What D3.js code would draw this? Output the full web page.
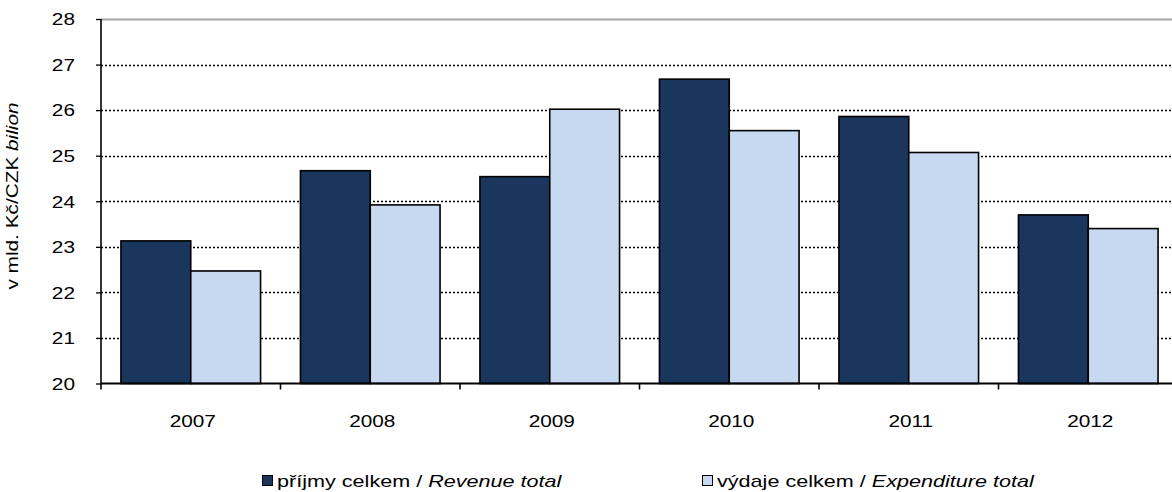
<!DOCTYPE html>
<html>
<head>
<meta charset="utf-8">
<script src="https://cdn.jsdelivr.net/npm/d3@7"></script>
<style>
body { margin: 0; background: #fff; }
text { font-family: "Liberation Sans", Arial, sans-serif; fill: #000; }
</style>
</head>
<body>
<script>
// data
var years = ["2007", "2008", "2009", "2010", "2011", "2012"];
var revenue = [23.13, 24.67, 24.54, 26.68, 25.86, 23.70];
var expenditure = [22.47, 23.92, 26.02, 25.55, 25.07, 23.40];
var yTicks = [20, 21, 22, 23, 24, 25, 26, 27, 28];
var seriesNames = ["příjmy celkem", "výdaje celkem"];
var seriesEn = ["Revenue total", "Expenditure total"];
var colors = ["#1b365c", "#c6d9f0"];

var w = 1172, h = 492;
var plotLeft = 101, plotRight = 1178, plotTop = 19, plotBottom = 383.5;
var stretch = 1.3; // text in the source is wider than normal

var svg = d3.select("body").append("svg")
	.attr("width", w)
	.attr("height", h);

var x = d3.scaleBand()
	.domain(years)
	.range([plotLeft, plotRight]);

var x1 = d3.scaleBand()
	.domain([0, 1])
	.range([0, x.bandwidth()])
	.paddingOuter(0.2857)
	.paddingInner(0);

var y = d3.scaleLinear()
	.domain([20, 28])
	.range([plotBottom, plotTop]);

// gridlines
svg.append("g").selectAll("line")
	.data(yTicks.filter(function(d){ return d > 20; }))
	.enter()
	.append("line")
	.attr("x1", plotLeft)
	.attr("x2", w)
	.attr("y1", function(d){ return Math.round(y(d)) + 0.5; })
	.attr("y2", function(d){ return Math.round(y(d)) + 0.5; })
	.style("stroke", function(d){ return d == 28 ? "#a6a6a6" : "#000"; })
	.style("stroke-width", function(d){ return d == 28 ? 2 : 1.3; })
	.style("stroke-dasharray", function(d){ return d == 28 ? null : "2,2"; });

// bars
var rows = years.map(function(yr, i){ return {year: yr, vals: [revenue[i], expenditure[i]]}; });
var groups = svg.append("g").selectAll("g")
	.data(rows)
	.enter()
	.append("g")
	.attr("transform", function(d){ return "translate(" + x(d.year) + ",0)"; });

groups.selectAll("rect")
	.data(function(d){ return d.vals; })
	.enter()
	.append("rect")
	.attr("x", function(d, i){ return x1(i); })
	.attr("width", x1.bandwidth())
	.attr("y", function(d){ return y(d); })
	.attr("height", function(d){ return y(20) - y(d); })
	.style("fill", function(d, i){ return colors[i]; })
	.style("stroke", "#000")
	.style("stroke-width", 1.6);

// y axis
var yAxis = d3.axisLeft(y)
	.tickValues(yTicks)
	.tickSize(5)
	.tickFormat(d3.format("d"));

var gy = svg.append("g")
	.attr("transform", "translate(" + plotLeft + ",0)")
	.call(yAxis);
gy.select(".domain").style("stroke", "#000").style("stroke-width", 1.6).attr("d", "M0," + plotTop + "V" + plotBottom);
gy.selectAll(".tick line").style("stroke", "#000").style("stroke-width", 1.3);
gy.selectAll(".tick text")
	.attr("x", 0)
	.attr("dy", "0.36em")
	.attr("transform", "translate(-26,0) scale(" + stretch + ",1)")
	.style("font-size", "16px")
	.style("font-family", "Liberation Sans, Arial, sans-serif");

// x axis
var xAxis = d3.axisBottom(x).tickSize(0).tickPadding(0);
var gx = svg.append("g")
	.attr("transform", "translate(0," + plotBottom + ")")
	.call(xAxis);
gx.select(".domain").style("stroke", "#000").style("stroke-width", 2).attr("d", "M" + plotLeft + ",0H" + w);
gx.selectAll(".tick text")
	.attr("y", 0)
	.attr("dy", 0)
	.attr("transform", "translate(2,43.5) scale(" + stretch + ",1)")
	.style("font-size", "16px")
	.style("font-family", "Liberation Sans, Arial, sans-serif");

// boundary tick marks
svg.append("g").selectAll("line")
	.data(years.map(function(d){ return x(d); }).concat([plotRight]))
	.enter()
	.append("line")
	.attr("x1", function(d){ return d; })
	.attr("x2", function(d){ return d; })
	.attr("y1", plotBottom)
	.attr("y2", plotBottom + 6)
	.style("stroke", "#000")
	.style("stroke-width", 1.6);

// y title
svg.append("text")
	.attr("transform", "translate(18,196) rotate(-90) scale(" + stretch + ",1)")
	.attr("text-anchor", "middle")
	.style("font-size", "16px")
	.text("v mld. Kč/CZK ")
	.append("tspan")
	.style("font-style", "italic")
	.text("bilion");

// legend
var legendX = [262, 702];
var legend = svg.append("g").selectAll("g")
	.data(seriesNames)
	.enter()
	.append("g")
	.attr("transform", function(d, i){ return "translate(" + legendX[i] + ",0)"; });

legend.append("rect")
	.attr("x", 0.5)
	.attr("y", 475.5)
	.attr("width", 10)
	.attr("height", 10)
	.style("fill", function(d, i){ return colors[i]; })
	.style("stroke", "#000")
	.style("stroke-width", 1);

var lt = legend.append("text")
	.attr("transform", "translate(15,487) scale(1.35,1)")
	.style("font-size", "16px");
lt.append("tspan").text(function(d){ return d + " / "; });
lt.append("tspan")
	.style("font-style", "italic")
	.text(function(d, i){ return seriesEn[i]; });
</script>
</body>
</html>
